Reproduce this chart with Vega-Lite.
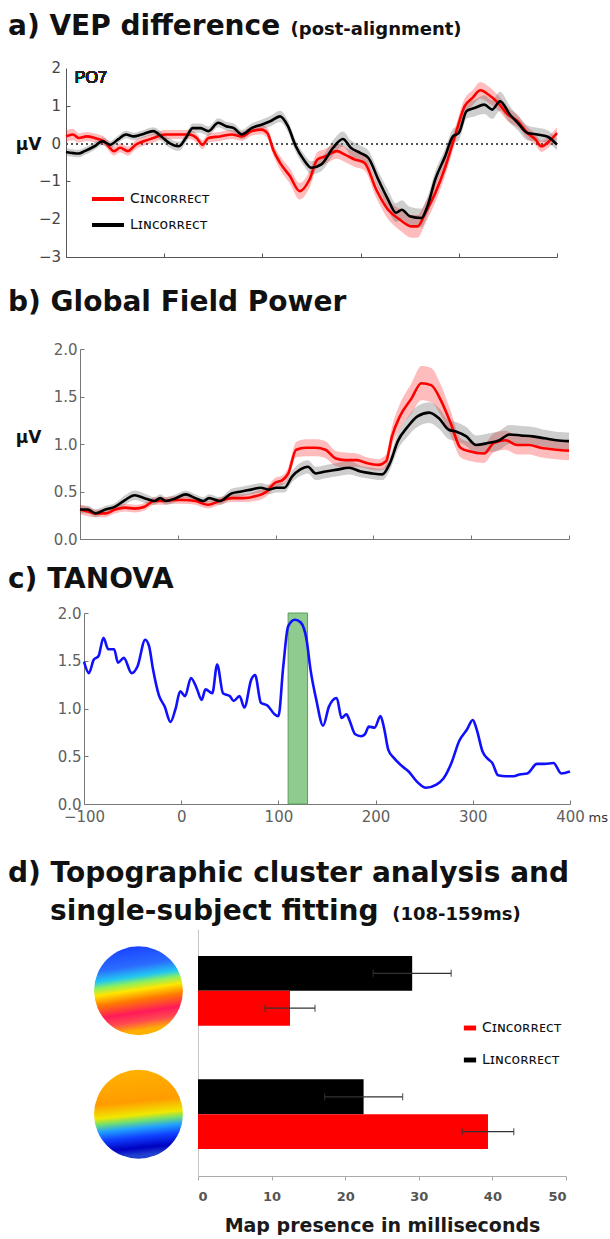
{
  "$schema": "https://vega.github.io/schema/vega-lite/v6.json",
  "background": "white",
  "padding": {"left": 8, "top": 13, "right": 0, "bottom": 0},
  "config": {
    "view": {"stroke": null},
    "axis": {"grid": false, "labelOverlap": false},
    "title": {"font": "DejaVu Sans", "fontWeight": "bold", "fontSize": 28, "color": "#111111", "anchor": "start", "frame": "group", "dx": -72}
  },
  "datasets": {
    "vep": [
      {"c":"Cɪɴᴄᴏʀʀᴇᴄᴛ","t":-100,"v":0.19,"lo":0.04,"hi":0.34},
      {"c":"Cɪɴᴄᴏʀʀᴇᴄᴛ","t":-93,"v":0.24,"lo":0.09,"hi":0.39},
      {"c":"Cɪɴᴄᴏʀʀᴇᴄᴛ","t":-87,"v":0.15,"lo":0.03,"hi":0.27},
      {"c":"Cɪɴᴄᴏʀʀᴇᴄᴛ","t":-79,"v":0.19,"lo":0.07,"hi":0.31},
      {"c":"Cɪɴᴄᴏʀʀᴇᴄᴛ","t":-71,"v":0.15,"lo":0.03,"hi":0.27},
      {"c":"Cɪɴᴄᴏʀʀᴇᴄᴛ","t":-61,"v":0.06,"lo":-0.06,"hi":0.18},
      {"c":"Cɪɴᴄᴏʀʀᴇᴄᴛ","t":-51,"v":-0.20,"lo":-0.32,"hi":-0.08},
      {"c":"Cɪɴᴄᴏʀʀᴇᴄᴛ","t":-45,"v":-0.11,"lo":-0.23,"hi":0.01},
      {"c":"Cɪɴᴄᴏʀʀᴇᴄᴛ","t":-37,"v":-0.20,"lo":-0.32,"hi":-0.08},
      {"c":"Cɪɴᴄᴏʀʀᴇᴄᴛ","t":-29,"v":-0.03,"lo":-0.15,"hi":0.09},
      {"c":"Cɪɴᴄᴏʀʀᴇᴄᴛ","t":-21,"v":0.06,"lo":-0.06,"hi":0.18},
      {"c":"Cɪɴᴄᴏʀʀᴇᴄᴛ","t":-11,"v":0.15,"lo":0.03,"hi":0.27},
      {"c":"Cɪɴᴄᴏʀʀᴇᴄᴛ","t":1,"v":0.24,"lo":0.12,"hi":0.36},
      {"c":"Cɪɴᴄᴏʀʀᴇᴄᴛ","t":13,"v":0.24,"lo":0.12,"hi":0.36},
      {"c":"Cɪɴᴄᴏʀʀᴇᴄᴛ","t":25,"v":0.24,"lo":0.12,"hi":0.36},
      {"c":"Cɪɴᴄᴏʀʀᴇᴄᴛ","t":33,"v":0.15,"lo":0.03,"hi":0.27},
      {"c":"Cɪɴᴄᴏʀʀᴇᴄᴛ","t":39,"v":-0.03,"lo":-0.15,"hi":0.09},
      {"c":"Cɪɴᴄᴏʀʀᴇᴄᴛ","t":45,"v":0.15,"lo":0.03,"hi":0.27},
      {"c":"Cɪɴᴄᴏʀʀᴇᴄᴛ","t":57,"v":0.19,"lo":0.07,"hi":0.31},
      {"c":"Cɪɴᴄᴏʀʀᴇᴄᴛ","t":69,"v":0.24,"lo":0.12,"hi":0.36},
      {"c":"Cɪɴᴄᴏʀʀᴇᴄᴛ","t":79,"v":0.19,"lo":0.07,"hi":0.31},
      {"c":"Cɪɴᴄᴏʀʀᴇᴄᴛ","t":89,"v":0.33,"lo":0.21,"hi":0.45},
      {"c":"Cɪɴᴄᴏʀʀᴇᴄᴛ","t":99,"v":0.37,"lo":0.25,"hi":0.49},
      {"c":"Cɪɴᴄᴏʀʀᴇᴄᴛ","t":105,"v":0.28,"lo":0.15,"hi":0.41},
      {"c":"Cɪɴᴄᴏʀʀᴇᴄᴛ","t":111,"v":-0.16,"lo":-0.31,"hi":-0.01},
      {"c":"Cɪɴᴄᴏʀʀᴇᴄᴛ","t":118,"v":-0.51,"lo":-0.69,"hi":-0.33},
      {"c":"Cɪɴᴄᴏʀʀᴇᴄᴛ","t":128,"v":-0.86,"lo":-1.06,"hi":-0.66},
      {"c":"Cɪɴᴄᴏʀʀᴇᴄᴛ","t":138,"v":-1.26,"lo":-1.48,"hi":-1.04},
      {"c":"Cɪɴᴄᴏʀʀᴇᴄᴛ","t":148,"v":-0.95,"lo":-1.17,"hi":-0.73},
      {"c":"Cɪɴᴄᴏʀʀᴇᴄᴛ","t":156,"v":-0.42,"lo":-0.62,"hi":-0.22},
      {"c":"Cɪɴᴄᴏʀʀᴇᴄᴛ","t":164,"v":-0.34,"lo":-0.54,"hi":-0.14},
      {"c":"Cɪɴᴄᴏʀʀᴇᴄᴛ","t":176,"v":-0.20,"lo":-0.40,"hi":0.00},
      {"c":"Cɪɴᴄᴏʀʀᴇᴄᴛ","t":184,"v":-0.29,"lo":-0.49,"hi":-0.09},
      {"c":"Cɪɴᴄᴏʀʀᴇᴄᴛ","t":194,"v":-0.42,"lo":-0.62,"hi":-0.22},
      {"c":"Cɪɴᴄᴏʀʀᴇᴄᴛ","t":204,"v":-0.51,"lo":-0.71,"hi":-0.31},
      {"c":"Cɪɴᴄᴏʀʀᴇᴄᴛ","t":216,"v":-1.22,"lo":-1.44,"hi":-1.00},
      {"c":"Cɪɴᴄᴏʀʀᴇᴄᴛ","t":228,"v":-1.75,"lo":-2.00,"hi":-1.50},
      {"c":"Cɪɴᴄᴏʀʀᴇᴄᴛ","t":240,"v":-2.01,"lo":-2.29,"hi":-1.73},
      {"c":"Cɪɴᴄᴏʀʀᴇᴄᴛ","t":252,"v":-2.19,"lo":-2.49,"hi":-1.89},
      {"c":"Cɪɴᴄᴏʀʀᴇᴄᴛ","t":258,"v":-2.19,"lo":-2.49,"hi":-1.89},
      {"c":"Cɪɴᴄᴏʀʀᴇᴄᴛ","t":266,"v":-1.83,"lo":-2.11,"hi":-1.55},
      {"c":"Cɪɴᴄᴏʀʀᴇᴄᴛ","t":276,"v":-1.31,"lo":-1.56,"hi":-1.06},
      {"c":"Cɪɴᴄᴏʀʀᴇᴄᴛ","t":286,"v":-0.64,"lo":-0.86,"hi":-0.42},
      {"c":"Cɪɴᴄᴏʀʀᴇᴄᴛ","t":296,"v":0.19,"lo":-0.01,"hi":0.39},
      {"c":"Cɪɴᴄᴏʀʀᴇᴄᴛ","t":306,"v":0.99,"lo":0.79,"hi":1.19},
      {"c":"Cɪɴᴄᴏʀʀᴇᴄᴛ","t":314,"v":1.21,"lo":1.01,"hi":1.41},
      {"c":"Cɪɴᴄᴏʀʀᴇᴄᴛ","t":322,"v":1.41,"lo":1.19,"hi":1.63},
      {"c":"Cɪɴᴄᴏʀʀᴇᴄᴛ","t":330,"v":1.30,"lo":1.08,"hi":1.52},
      {"c":"Cɪɴᴄᴏʀʀᴇᴄᴛ","t":340,"v":1.08,"lo":0.88,"hi":1.28},
      {"c":"Cɪɴᴄᴏʀʀᴇᴄᴛ","t":350,"v":0.77,"lo":0.59,"hi":0.95},
      {"c":"Cɪɴᴄᴏʀʀᴇᴄᴛ","t":360,"v":0.59,"lo":0.43,"hi":0.75},
      {"c":"Cɪɴᴄᴏʀʀᴇᴄᴛ","t":370,"v":0.28,"lo":0.13,"hi":0.43},
      {"c":"Cɪɴᴄᴏʀʀᴇᴄᴛ","t":378,"v":0.11,"lo":-0.04,"hi":0.26},
      {"c":"Cɪɴᴄᴏʀʀᴇᴄᴛ","t":384,"v":-0.07,"lo":-0.22,"hi":0.08},
      {"c":"Cɪɴᴄᴏʀʀᴇᴄᴛ","t":392,"v":0.06,"lo":-0.09,"hi":0.21},
      {"c":"Cɪɴᴄᴏʀʀᴇᴄᴛ","t":400,"v":0.28,"lo":0.13,"hi":0.43},
      {"c":"Lɪɴᴄᴏʀʀᴇᴄᴛ","t":-100,"v":-0.22,"lo":-0.32,"hi":-0.12},
      {"c":"Lɪɴᴄᴏʀʀᴇᴄᴛ","t":-87,"v":-0.26,"lo":-0.36,"hi":-0.16},
      {"c":"Lɪɴᴄᴏʀʀᴇᴄᴛ","t":-81,"v":-0.20,"lo":-0.30,"hi":-0.10},
      {"c":"Lɪɴᴄᴏʀʀᴇᴄᴛ","t":-71,"v":-0.07,"lo":-0.17,"hi":0.03},
      {"c":"Lɪɴᴄᴏʀʀᴇᴄᴛ","t":-63,"v":0.06,"lo":-0.04,"hi":0.16},
      {"c":"Lɪɴᴄᴏʀʀᴇᴄᴛ","t":-55,"v":-0.03,"lo":-0.13,"hi":0.07},
      {"c":"Lɪɴᴄᴏʀʀᴇᴄᴛ","t":-47,"v":0.11,"lo":0.01,"hi":0.21},
      {"c":"Lɪɴᴄᴏʀʀᴇᴄᴛ","t":-39,"v":0.24,"lo":0.14,"hi":0.34},
      {"c":"Lɪɴᴄᴏʀʀᴇᴄᴛ","t":-31,"v":0.19,"lo":0.09,"hi":0.29},
      {"c":"Lɪɴᴄᴏʀʀᴇᴄᴛ","t":-23,"v":0.24,"lo":0.14,"hi":0.34},
      {"c":"Lɪɴᴄᴏʀʀᴇᴄᴛ","t":-11,"v":0.33,"lo":0.23,"hi":0.43},
      {"c":"Lɪɴᴄᴏʀʀᴇᴄᴛ","t":-3,"v":0.19,"lo":0.07,"hi":0.31},
      {"c":"Lɪɴᴄᴏʀʀᴇᴄᴛ","t":5,"v":0.02,"lo":-0.10,"hi":0.14},
      {"c":"Lɪɴᴄᴏʀʀᴇᴄᴛ","t":15,"v":-0.07,"lo":-0.19,"hi":0.05},
      {"c":"Lɪɴᴄᴏʀʀᴇᴄᴛ","t":23,"v":0.19,"lo":0.07,"hi":0.31},
      {"c":"Lɪɴᴄᴏʀʀᴇᴄᴛ","t":29,"v":0.41,"lo":0.29,"hi":0.53},
      {"c":"Lɪɴᴄᴏʀʀᴇᴄᴛ","t":37,"v":0.41,"lo":0.29,"hi":0.53},
      {"c":"Lɪɴᴄᴏʀʀᴇᴄᴛ","t":45,"v":0.33,"lo":0.21,"hi":0.45},
      {"c":"Lɪɴᴄᴏʀʀᴇᴄᴛ","t":55,"v":0.55,"lo":0.43,"hi":0.67},
      {"c":"Lɪɴᴄᴏʀʀᴇᴄᴛ","t":63,"v":0.46,"lo":0.34,"hi":0.58},
      {"c":"Lɪɴᴄᴏʀʀᴇᴄᴛ","t":71,"v":0.41,"lo":0.29,"hi":0.53},
      {"c":"Lɪɴᴄᴏʀʀᴇᴄᴛ","t":79,"v":0.24,"lo":0.12,"hi":0.36},
      {"c":"Lɪɴᴄᴏʀʀᴇᴄᴛ","t":89,"v":0.41,"lo":0.29,"hi":0.53},
      {"c":"Lɪɴᴄᴏʀʀᴇᴄᴛ","t":99,"v":0.50,"lo":0.37,"hi":0.63},
      {"c":"Lɪɴᴄᴏʀʀᴇᴄᴛ","t":108,"v":0.59,"lo":0.45,"hi":0.73},
      {"c":"Lɪɴᴄᴏʀʀᴇᴄᴛ","t":118,"v":0.72,"lo":0.57,"hi":0.87},
      {"c":"Lɪɴᴄᴏʀʀᴇᴄᴛ","t":126,"v":0.46,"lo":0.31,"hi":0.61},
      {"c":"Lɪɴᴄᴏʀʀᴇᴄᴛ","t":134,"v":-0.07,"lo":-0.22,"hi":0.08},
      {"c":"Lɪɴᴄᴏʀʀᴇᴄᴛ","t":142,"v":-0.42,"lo":-0.58,"hi":-0.26},
      {"c":"Lɪɴᴄᴏʀʀᴇᴄᴛ","t":150,"v":-0.64,"lo":-0.81,"hi":-0.47},
      {"c":"Lɪɴᴄᴏʀʀᴇᴄᴛ","t":160,"v":-0.55,"lo":-0.73,"hi":-0.37},
      {"c":"Lɪɴᴄᴏʀʀᴇᴄᴛ","t":172,"v":-0.11,"lo":-0.31,"hi":0.09},
      {"c":"Lɪɴᴄᴏʀʀᴇᴄᴛ","t":182,"v":0.12,"lo":-0.08,"hi":0.32},
      {"c":"Lɪɴᴄᴏʀʀᴇᴄᴛ","t":190,"v":-0.11,"lo":-0.31,"hi":0.09},
      {"c":"Lɪɴᴄᴏʀʀᴇᴄᴛ","t":200,"v":-0.25,"lo":-0.45,"hi":-0.05},
      {"c":"Lɪɴᴄᴏʀʀᴇᴄᴛ","t":208,"v":-0.38,"lo":-0.58,"hi":-0.18},
      {"c":"Lɪɴᴄᴏʀʀᴇᴄᴛ","t":218,"v":-0.95,"lo":-1.17,"hi":-0.73},
      {"c":"Lɪɴᴄᴏʀʀᴇᴄᴛ","t":228,"v":-1.48,"lo":-1.73,"hi":-1.23},
      {"c":"Lɪɴᴄᴏʀʀᴇᴄᴛ","t":236,"v":-1.83,"lo":-2.08,"hi":-1.58},
      {"c":"Lɪɴᴄᴏʀʀᴇᴄᴛ","t":242,"v":-1.75,"lo":-2.00,"hi":-1.50},
      {"c":"Lɪɴᴄᴏʀʀᴇᴄᴛ","t":250,"v":-1.92,"lo":-2.17,"hi":-1.67},
      {"c":"Lɪɴᴄᴏʀʀᴇᴄᴛ","t":262,"v":-1.97,"lo":-2.22,"hi":-1.72},
      {"c":"Lɪɴᴄᴏʀʀᴇᴄᴛ","t":268,"v":-1.66,"lo":-1.91,"hi":-1.41},
      {"c":"Lɪɴᴄᴏʀʀᴇᴄᴛ","t":276,"v":-0.95,"lo":-1.17,"hi":-0.73},
      {"c":"Lɪɴᴄᴏʀʀᴇᴄᴛ","t":286,"v":-0.34,"lo":-0.54,"hi":-0.14},
      {"c":"Lɪɴᴄᴏʀʀᴇᴄᴛ","t":294,"v":0.19,"lo":-0.01,"hi":0.39},
      {"c":"Lɪɴᴄᴏʀʀᴇᴄᴛ","t":300,"v":0.28,"lo":0.08,"hi":0.48},
      {"c":"Lɪɴᴄᴏʀʀᴇᴄᴛ","t":308,"v":0.86,"lo":0.66,"hi":1.06},
      {"c":"Lɪɴᴄᴏʀʀᴇᴄᴛ","t":316,"v":0.94,"lo":0.72,"hi":1.16},
      {"c":"Lɪɴᴄᴏʀʀᴇᴄᴛ","t":326,"v":1.03,"lo":0.78,"hi":1.28},
      {"c":"Lɪɴᴄᴏʀʀᴇᴄᴛ","t":334,"v":0.90,"lo":0.65,"hi":1.15},
      {"c":"Lɪɴᴄᴏʀʀᴇᴄᴛ","t":342,"v":1.12,"lo":0.87,"hi":1.37},
      {"c":"Lɪɴᴄᴏʀʀᴇᴄᴛ","t":352,"v":0.77,"lo":0.55,"hi":0.99},
      {"c":"Lɪɴᴄᴏʀʀᴇᴄᴛ","t":360,"v":0.55,"lo":0.35,"hi":0.75},
      {"c":"Lɪɴᴄᴏʀʀᴇᴄᴛ","t":370,"v":0.28,"lo":0.08,"hi":0.48},
      {"c":"Lɪɴᴄᴏʀʀᴇᴄᴛ","t":380,"v":0.24,"lo":0.06,"hi":0.42},
      {"c":"Lɪɴᴄᴏʀʀᴇᴄᴛ","t":390,"v":0.19,"lo":0.02,"hi":0.36},
      {"c":"Lɪɴᴄᴏʀʀᴇᴄᴛ","t":400,"v":-0.03,"lo":-0.18,"hi":0.12}
    ],
    "aticks": [{"v":-3},{"v":-2},{"v":-1},{"v":0},{"v":1},{"v":2}],
    "gfp": [
      {"c":"Cɪɴᴄᴏʀʀᴇᴄᴛ","t":-100,"v":0.31,"lo":0.26,"hi":0.36},
      {"c":"Cɪɴᴄᴏʀʀᴇᴄᴛ","t":-92,"v":0.29,"lo":0.24,"hi":0.34},
      {"c":"Cɪɴᴄᴏʀʀᴇᴄᴛ","t":-84,"v":0.27,"lo":0.23,"hi":0.31},
      {"c":"Cɪɴᴄᴏʀʀᴇᴄᴛ","t":-74,"v":0.27,"lo":0.23,"hi":0.31},
      {"c":"Cɪɴᴄᴏʀʀᴇᴄᴛ","t":-64,"v":0.31,"lo":0.27,"hi":0.35},
      {"c":"Cɪɴᴄᴏʀʀᴇᴄᴛ","t":-54,"v":0.33,"lo":0.29,"hi":0.37},
      {"c":"Cɪɴᴄᴏʀʀᴇᴄᴛ","t":-44,"v":0.32,"lo":0.28,"hi":0.36},
      {"c":"Cɪɴᴄᴏʀʀᴇᴄᴛ","t":-34,"v":0.34,"lo":0.30,"hi":0.38},
      {"c":"Cɪɴᴄᴏʀʀᴇᴄᴛ","t":-24,"v":0.40,"lo":0.36,"hi":0.44},
      {"c":"Cɪɴᴄᴏʀʀᴇᴄᴛ","t":-14,"v":0.40,"lo":0.36,"hi":0.44},
      {"c":"Cɪɴᴄᴏʀʀᴇᴄᴛ","t":-4,"v":0.41,"lo":0.37,"hi":0.45},
      {"c":"Cɪɴᴄᴏʀʀᴇᴄᴛ","t":6,"v":0.41,"lo":0.37,"hi":0.45},
      {"c":"Cɪɴᴄᴏʀʀᴇᴄᴛ","t":18,"v":0.40,"lo":0.36,"hi":0.44},
      {"c":"Cɪɴᴄᴏʀʀᴇᴄᴛ","t":31,"v":0.36,"lo":0.32,"hi":0.40},
      {"c":"Cɪɴᴄᴏʀʀᴇᴄᴛ","t":43,"v":0.40,"lo":0.36,"hi":0.44},
      {"c":"Cɪɴᴄᴏʀʀᴇᴄᴛ","t":55,"v":0.43,"lo":0.39,"hi":0.47},
      {"c":"Cɪɴᴄᴏʀʀᴇᴄᴛ","t":67,"v":0.43,"lo":0.39,"hi":0.47},
      {"c":"Cɪɴᴄᴏʀʀᴇᴄᴛ","t":79,"v":0.45,"lo":0.40,"hi":0.50},
      {"c":"Cɪɴᴄᴏʀʀᴇᴄᴛ","t":91,"v":0.50,"lo":0.45,"hi":0.55},
      {"c":"Cɪɴᴄᴏʀʀᴇᴄᴛ","t":99,"v":0.59,"lo":0.54,"hi":0.64},
      {"c":"Cɪɴᴄᴏʀʀᴇᴄᴛ","t":107,"v":0.62,"lo":0.57,"hi":0.67},
      {"c":"Cɪɴᴄᴏʀʀᴇᴄᴛ","t":113,"v":0.69,"lo":0.63,"hi":0.75},
      {"c":"Cɪɴᴄᴏʀʀᴇᴄᴛ","t":121,"v":0.94,"lo":0.86,"hi":1.02},
      {"c":"Cɪɴᴄᴏʀʀᴇᴄᴛ","t":131,"v":0.96,"lo":0.87,"hi":1.05},
      {"c":"Cɪɴᴄᴏʀʀᴇᴄᴛ","t":141,"v":0.96,"lo":0.87,"hi":1.05},
      {"c":"Cɪɴᴄᴏʀʀᴇᴄᴛ","t":151,"v":0.94,"lo":0.85,"hi":1.03},
      {"c":"Cɪɴᴄᴏʀʀᴇᴄᴛ","t":161,"v":0.85,"lo":0.77,"hi":0.93},
      {"c":"Cɪɴᴄᴏʀʀᴇᴄᴛ","t":171,"v":0.83,"lo":0.75,"hi":0.91},
      {"c":"Cɪɴᴄᴏʀʀᴇᴄᴛ","t":183,"v":0.83,"lo":0.76,"hi":0.90},
      {"c":"Cɪɴᴄᴏʀʀᴇᴄᴛ","t":193,"v":0.80,"lo":0.74,"hi":0.86},
      {"c":"Cɪɴᴄᴏʀʀᴇᴄᴛ","t":205,"v":0.78,"lo":0.72,"hi":0.84},
      {"c":"Cɪɴᴄᴏʀʀᴇᴄᴛ","t":213,"v":0.82,"lo":0.75,"hi":0.89},
      {"c":"Cɪɴᴄᴏʀʀᴇᴄᴛ","t":219,"v":1.08,"lo":0.98,"hi":1.18},
      {"c":"Cɪɴᴄᴏʀʀᴇᴄᴛ","t":227,"v":1.29,"lo":1.16,"hi":1.42},
      {"c":"Cɪɴᴄᴏʀʀᴇᴄᴛ","t":239,"v":1.48,"lo":1.32,"hi":1.64},
      {"c":"Cɪɴᴄᴏʀʀᴇᴄᴛ","t":249,"v":1.64,"lo":1.46,"hi":1.82},
      {"c":"Cɪɴᴄᴏʀʀᴇᴄᴛ","t":259,"v":1.62,"lo":1.44,"hi":1.80},
      {"c":"Cɪɴᴄᴏʀʀᴇᴄᴛ","t":269,"v":1.46,"lo":1.30,"hi":1.62},
      {"c":"Cɪɴᴄᴏʀʀᴇᴄᴛ","t":279,"v":1.22,"lo":1.09,"hi":1.35},
      {"c":"Cɪɴᴄᴏʀʀᴇᴄᴛ","t":289,"v":0.96,"lo":0.86,"hi":1.06},
      {"c":"Cɪɴᴄᴏʀʀᴇᴄᴛ","t":299,"v":0.92,"lo":0.82,"hi":1.02},
      {"c":"Cɪɴᴄᴏʀʀᴇᴄᴛ","t":313,"v":0.90,"lo":0.80,"hi":1.00},
      {"c":"Cɪɴᴄᴏʀʀᴇᴄᴛ","t":323,"v":1.01,"lo":0.91,"hi":1.11},
      {"c":"Cɪɴᴄᴏʀʀᴇᴄᴛ","t":335,"v":1.04,"lo":0.94,"hi":1.14},
      {"c":"Cɪɴᴄᴏʀʀᴇᴄᴛ","t":347,"v":0.99,"lo":0.89,"hi":1.09},
      {"c":"Cɪɴᴄᴏʀʀᴇᴄᴛ","t":359,"v":0.99,"lo":0.89,"hi":1.09},
      {"c":"Cɪɴᴄᴏʀʀᴇᴄᴛ","t":371,"v":0.96,"lo":0.86,"hi":1.06},
      {"c":"Cɪɴᴄᴏʀʀᴇᴄᴛ","t":387,"v":0.94,"lo":0.84,"hi":1.04},
      {"c":"Cɪɴᴄᴏʀʀᴇᴄᴛ","t":400,"v":0.93,"lo":0.83,"hi":1.03},
      {"c":"Lɪɴᴄᴏʀʀᴇᴄᴛ","t":-100,"v":0.31,"lo":0.27,"hi":0.35},
      {"c":"Lɪɴᴄᴏʀʀᴇᴄᴛ","t":-92,"v":0.31,"lo":0.27,"hi":0.35},
      {"c":"Lɪɴᴄᴏʀʀᴇᴄᴛ","t":-84,"v":0.27,"lo":0.23,"hi":0.31},
      {"c":"Lɪɴᴄᴏʀʀᴇᴄᴛ","t":-74,"v":0.31,"lo":0.27,"hi":0.35},
      {"c":"Lɪɴᴄᴏʀʀᴇᴄᴛ","t":-64,"v":0.34,"lo":0.30,"hi":0.38},
      {"c":"Lɪɴᴄᴏʀʀᴇᴄᴛ","t":-54,"v":0.41,"lo":0.36,"hi":0.46},
      {"c":"Lɪɴᴄᴏʀʀᴇᴄᴛ","t":-44,"v":0.46,"lo":0.41,"hi":0.51},
      {"c":"Lɪɴᴄᴏʀʀᴇᴄᴛ","t":-34,"v":0.43,"lo":0.38,"hi":0.48},
      {"c":"Lɪɴᴄᴏʀʀᴇᴄᴛ","t":-24,"v":0.40,"lo":0.36,"hi":0.44},
      {"c":"Lɪɴᴄᴏʀʀᴇᴄᴛ","t":-18,"v":0.43,"lo":0.39,"hi":0.47},
      {"c":"Lɪɴᴄᴏʀʀᴇᴄᴛ","t":-12,"v":0.40,"lo":0.36,"hi":0.44},
      {"c":"Lɪɴᴄᴏʀʀᴇᴄᴛ","t":-2,"v":0.43,"lo":0.39,"hi":0.47},
      {"c":"Lɪɴᴄᴏʀʀᴇᴄᴛ","t":8,"v":0.47,"lo":0.43,"hi":0.51},
      {"c":"Lɪɴᴄᴏʀʀᴇᴄᴛ","t":18,"v":0.43,"lo":0.39,"hi":0.47},
      {"c":"Lɪɴᴄᴏʀʀᴇᴄᴛ","t":26,"v":0.40,"lo":0.36,"hi":0.44},
      {"c":"Lɪɴᴄᴏʀʀᴇᴄᴛ","t":32,"v":0.43,"lo":0.39,"hi":0.47},
      {"c":"Lɪɴᴄᴏʀʀᴇᴄᴛ","t":43,"v":0.40,"lo":0.36,"hi":0.44},
      {"c":"Lɪɴᴄᴏʀʀᴇᴄᴛ","t":55,"v":0.48,"lo":0.43,"hi":0.53},
      {"c":"Lɪɴᴄᴏʀʀᴇᴄᴛ","t":65,"v":0.50,"lo":0.45,"hi":0.55},
      {"c":"Lɪɴᴄᴏʀʀᴇᴄᴛ","t":75,"v":0.52,"lo":0.47,"hi":0.57},
      {"c":"Lɪɴᴄᴏʀʀᴇᴄᴛ","t":85,"v":0.54,"lo":0.49,"hi":0.59},
      {"c":"Lɪɴᴄᴏʀʀᴇᴄᴛ","t":93,"v":0.52,"lo":0.47,"hi":0.57},
      {"c":"Lɪɴᴄᴏʀʀᴇᴄᴛ","t":101,"v":0.54,"lo":0.49,"hi":0.59},
      {"c":"Lɪɴᴄᴏʀʀᴇᴄᴛ","t":109,"v":0.54,"lo":0.49,"hi":0.59},
      {"c":"Lɪɴᴄᴏʀʀᴇᴄᴛ","t":117,"v":0.66,"lo":0.60,"hi":0.72},
      {"c":"Lɪɴᴄᴏʀʀᴇᴄᴛ","t":125,"v":0.73,"lo":0.66,"hi":0.80},
      {"c":"Lɪɴᴄᴏʀʀᴇᴄᴛ","t":133,"v":0.76,"lo":0.69,"hi":0.83},
      {"c":"Lɪɴᴄᴏʀʀᴇᴄᴛ","t":141,"v":0.69,"lo":0.62,"hi":0.76},
      {"c":"Lɪɴᴄᴏʀʀᴇᴄᴛ","t":151,"v":0.71,"lo":0.64,"hi":0.78},
      {"c":"Lɪɴᴄᴏʀʀᴇᴄᴛ","t":163,"v":0.73,"lo":0.66,"hi":0.80},
      {"c":"Lɪɴᴄᴏʀʀᴇᴄᴛ","t":175,"v":0.75,"lo":0.68,"hi":0.82},
      {"c":"Lɪɴᴄᴏʀʀᴇᴄᴛ","t":187,"v":0.71,"lo":0.65,"hi":0.77},
      {"c":"Lɪɴᴄᴏʀʀᴇᴄᴛ","t":199,"v":0.69,"lo":0.63,"hi":0.75},
      {"c":"Lɪɴᴄᴏʀʀᴇᴄᴛ","t":209,"v":0.68,"lo":0.62,"hi":0.74},
      {"c":"Lɪɴᴄᴏʀʀᴇᴄᴛ","t":217,"v":0.80,"lo":0.73,"hi":0.87},
      {"c":"Lɪɴᴄᴏʀʀᴇᴄᴛ","t":225,"v":1.03,"lo":0.94,"hi":1.12},
      {"c":"Lɪɴᴄᴏʀʀᴇᴄᴛ","t":235,"v":1.18,"lo":1.08,"hi":1.28},
      {"c":"Lɪɴᴄᴏʀʀᴇᴄᴛ","t":245,"v":1.29,"lo":1.18,"hi":1.40},
      {"c":"Lɪɴᴄᴏʀʀᴇᴄᴛ","t":257,"v":1.33,"lo":1.22,"hi":1.44},
      {"c":"Lɪɴᴄᴏʀʀᴇᴄᴛ","t":267,"v":1.27,"lo":1.16,"hi":1.38},
      {"c":"Lɪɴᴄᴏʀʀᴇᴄᴛ","t":277,"v":1.15,"lo":1.05,"hi":1.25},
      {"c":"Lɪɴᴄᴏʀʀᴇᴄᴛ","t":285,"v":1.13,"lo":1.03,"hi":1.23},
      {"c":"Lɪɴᴄᴏʀʀᴇᴄᴛ","t":295,"v":1.08,"lo":0.98,"hi":1.18},
      {"c":"Lɪɴᴄᴏʀʀᴇᴄᴛ","t":305,"v":0.99,"lo":0.89,"hi":1.09},
      {"c":"Lɪɴᴄᴏʀʀᴇᴄᴛ","t":317,"v":1.01,"lo":0.91,"hi":1.11},
      {"c":"Lɪɴᴄᴏʀʀᴇᴄᴛ","t":329,"v":1.04,"lo":0.94,"hi":1.14},
      {"c":"Lɪɴᴄᴏʀʀᴇᴄᴛ","t":339,"v":1.10,"lo":1.00,"hi":1.20},
      {"c":"Lɪɴᴄᴏʀʀᴇᴄᴛ","t":351,"v":1.09,"lo":0.99,"hi":1.19},
      {"c":"Lɪɴᴄᴏʀʀᴇᴄᴛ","t":363,"v":1.08,"lo":0.98,"hi":1.18},
      {"c":"Lɪɴᴄᴏʀʀᴇᴄᴛ","t":375,"v":1.06,"lo":0.97,"hi":1.15},
      {"c":"Lɪɴᴄᴏʀʀᴇᴄᴛ","t":387,"v":1.04,"lo":0.95,"hi":1.13},
      {"c":"Lɪɴᴄᴏʀʀᴇᴄᴛ","t":400,"v":1.03,"lo":0.94,"hi":1.12}
    ],
    "tanova": [
      {"t":-100,"v":1.49},{"t":-95,"v":1.37},{"t":-90,"v":1.51},{"t":-85,"v":1.55},{"t":-80,"v":1.74},
      {"t":-75,"v":1.62},{"t":-69,"v":1.62},{"t":-65,"v":1.48},{"t":-59,"v":1.53},{"t":-51,"v":1.37},
      {"t":-45,"v":1.44},{"t":-37,"v":1.72},{"t":-33,"v":1.65},{"t":-29,"v":1.41},{"t":-23,"v":1.14},
      {"t":-17,"v":1.02},{"t":-11,"v":0.86},{"t":-6,"v":0.99},{"t":-1,"v":1.18},{"t":4,"v":1.13},
      {"t":10,"v":1.32},{"t":16,"v":1.21},{"t":21,"v":1.09},{"t":25,"v":1.20},{"t":32,"v":1.16},
      {"t":37,"v":1.46},{"t":43,"v":1.16},{"t":50,"v":1.13},{"t":54,"v":1.08},{"t":60,"v":1.13},
      {"t":65,"v":1.01},{"t":72,"v":1.30},{"t":76,"v":1.35},{"t":82,"v":1.06},{"t":89,"v":1.03},
      {"t":96,"v":0.94},{"t":100,"v":0.92},{"t":105,"v":1.44},{"t":110,"v":1.86},{"t":117,"v":1.93},
      {"t":123,"v":1.90},{"t":129,"v":1.72},{"t":133,"v":1.41},{"t":139,"v":1.09},{"t":146,"v":0.82},
      {"t":152,"v":1.02},{"t":160,"v":1.11},{"t":165,"v":0.90},{"t":170,"v":0.94},{"t":173,"v":0.88},
      {"t":179,"v":0.73},{"t":185,"v":0.71},{"t":189,"v":0.73},{"t":193,"v":0.81},{"t":199,"v":0.80},
      {"t":205,"v":0.92},{"t":209,"v":0.78},{"t":213,"v":0.57},{"t":219,"v":0.48},{"t":228,"v":0.39},
      {"t":234,"v":0.34},{"t":242,"v":0.24},{"t":252,"v":0.17},{"t":262,"v":0.20},{"t":270,"v":0.27},
      {"t":278,"v":0.43},{"t":286,"v":0.66},{"t":294,"v":0.78},{"t":300,"v":0.88},{"t":304,"v":0.78},
      {"t":310,"v":0.55},{"t":317,"v":0.46},{"t":320,"v":0.43},{"t":326,"v":0.30},{"t":334,"v":0.29},
      {"t":342,"v":0.29},{"t":348,"v":0.31},{"t":356,"v":0.32},{"t":366,"v":0.42},{"t":374,"v":0.42},
      {"t":383,"v":0.43},{"t":391,"v":0.32},{"t":400,"v":0.34}
    ],
    "sig": [{"start":110,"end":130}],
    "maps": [{"map":"Map 1"},{"map":"Map 2"}],
    "bars": [
      {"map":"Map 1","cond":"Lɪɴᴄᴏʀʀᴇᴄᴛ","ms":29.1,"lo":23.8,"hi":34.4},
      {"map":"Map 1","cond":"Cɪɴᴄᴏʀʀᴇᴄᴛ","ms":12.5,"lo":9.1,"hi":15.9},
      {"map":"Map 2","cond":"Lɪɴᴄᴏʀʀᴇᴄᴛ","ms":22.5,"lo":17.2,"hi":27.8},
      {"map":"Map 2","cond":"Cɪɴᴄᴏʀʀᴇᴄᴛ","ms":39.4,"lo":35.9,"hi":42.9}
    ]
  },
  "resolve": {"scale": {"color": "independent", "fill": "independent"}, "legend": {"color": "independent", "fill": "independent"}},
  "spacing": 35,
  "vconcat": [
    {
      "resolve": {"scale": {"color": "independent", "fill": "independent"}, "legend": {"color": "independent", "fill": "independent"}},
      "spacing": 24,
      "vconcat": [
        {
          "title": {"text": "a) VEP difference", "subtitle": "\u200b\u2003\u2003\u2003\u2003\u2003\u2003\u2003\u2003\u2003\u2003\u2003\u2003\u2003\u2003\u2003\u00a0\u00a0(post-alignment)", "subtitleFont": "DejaVu Sans", "subtitleFontWeight": "bold", "subtitleFontSize": 18, "subtitleColor": "#111111", "subtitlePadding": -20, "offset": 20},
          "width": 477,
          "height": 189,
          "data": {"name": "vep"},
          "layer": [
            {
              "mark": {"type": "rule", "strokeDash": [2, 3], "color": "#555555", "strokeWidth": 1.2},
              "encoding": {
                "x": {"datum": -100, "type": "quantitative"},
                "x2": {"datum": 400},
                "y": {"datum": 0, "type": "quantitative"}
              }
            },
            {
              "mark": {"type": "area", "interpolate": "monotone", "fillOpacity": 0.28},
              "encoding": {
                "x": {"field": "t", "type": "quantitative", "scale": {"domain": [-100, 400], "range": [-14, 477], "nice": false, "zero": false},
                  "axis": {"values": [-100, 0, 100, 200, 300, 400], "labels": false, "title": null, "tickSize": -4, "tickColor": "#555555", "domainColor": "#555555"}},
                "y": {"field": "lo", "type": "quantitative", "scale": {"domain": [-3, 2], "nice": false, "zero": false},
                  "axis": {"values": [-3, -2, -1, 0, 1, 2], "labels": false, "offset": 14, "tickSize": -4, "tickColor": "#555555", "domainColor": "#555555",
                    "title": "μV", "titleAngle": 0, "titleX": -25, "titleY": 76, "titleAlign": "right", "titleBaseline": "middle", "titleFont": "DejaVu Sans", "titleFontWeight": "bold", "titleFontSize": 17, "titleColor": "#111111"}},
                "y2": {"field": "hi"},
                "fill": {"field": "c", "type": "nominal", "scale": {"domain": ["Lɪɴᴄᴏʀʀᴇᴄᴛ", "Cɪɴᴄᴏʀʀᴇᴄᴛ"], "range": ["#505050", "#ff1010"]}, "legend": null}
              }
            },
            {
              "mark": {"type": "line", "interpolate": "monotone", "strokeWidth": 2.6},
              "encoding": {
                "x": {"field": "t", "type": "quantitative"},
                "y": {"field": "v", "type": "quantitative"},
                "color": {"field": "c", "type": "nominal", "scale": {"domain": ["Cɪɴᴄᴏʀʀᴇᴄᴛ", "Lɪɴᴄᴏʀʀᴇᴄᴛ"], "range": ["#ff0000", "#000000"]},
                  "legend": {"orient": "none", "legendX": 10, "legendY": 113, "title": null, "symbolType": "stroke", "symbolStrokeWidth": 4, "symbolSize": 1024, "rowPadding": 0, "labelFont": "DejaVu Sans", "labelFontSize": 14, "labelColor": "#111111", "labelOffset": 4}}
              }
            },
            {
              "data": {"name": "aticks"},
              "mark": {"type": "text", "align": "right", "baseline": "middle", "dx": -5, "font": "DejaVu Sans", "fontSize": 15, "color": "#444444"},
              "encoding": {
                "x": {"datum": -100, "type": "quantitative"},
                "y": {"field": "v", "type": "quantitative"},
                "text": {"field": "v", "type": "quantitative", "format": "d"}
              }
            },
            {
              "mark": {"type": "text", "text": "PO7", "align": "left", "baseline": "middle", "font": "Liberation Sans", "fontSize": 16, "color": "#222222"},
              "encoding": {
                "x": {"datum": -91, "type": "quantitative"},
                "y": {"datum": 1.74, "type": "quantitative"}
              }
            }
          ]
        },
        {
          "spacing": 19,
          "resolve": {"scale": {"color": "independent", "fill": "independent"}, "legend": {"color": "independent", "fill": "independent"}},
          "vconcat": [
            {
              "title": {"text": "b) Global Field Power", "offset": 25},
              "width": 489,
              "height": 190,
              "data": {"name": "gfp"},
              "layer": [
                {
                  "mark": {"type": "area", "interpolate": "monotone", "fillOpacity": 0.28},
                  "encoding": {
                    "x": {"field": "t", "type": "quantitative", "scale": {"domain": [-100, 400], "nice": false, "zero": false},
                      "axis": {"values": [-100, 0, 100, 200, 300, 400], "labels": false, "title": null, "tickSize": -4, "tickColor": "#777777", "domainColor": "#777777"}},
                    "y": {"field": "lo", "type": "quantitative", "scale": {"domain": [0, 2], "nice": false, "zero": false},
                      "axis": {"values": [0, 0.5, 1, 1.5, 2], "format": ".1f", "tickSize": -4, "tickColor": "#777777", "domainColor": "#777777", "labelFont": "DejaVu Sans", "labelFontSize": 15, "labelColor": "#606060", "labelPadding": 7,
                        "title": "μV", "titleAngle": 0, "titleX": -39, "titleY": 88, "titleAlign": "right", "titleBaseline": "middle", "titleFont": "DejaVu Sans", "titleFontWeight": "bold", "titleFontSize": 17, "titleColor": "#111111"}},
                    "y2": {"field": "hi"},
                    "fill": {"field": "c", "type": "nominal", "scale": {"domain": ["Lɪɴᴄᴏʀʀᴇᴄᴛ", "Cɪɴᴄᴏʀʀᴇᴄᴛ"], "range": ["#505050", "#ff1010"]}, "legend": null}
                  }
                },
                {
                  "mark": {"type": "line", "interpolate": "monotone", "strokeWidth": 2.6},
                  "encoding": {
                    "x": {"field": "t", "type": "quantitative"},
                    "y": {"field": "v", "type": "quantitative"},
                    "color": {"field": "c", "type": "nominal", "scale": {"domain": ["Cɪɴᴄᴏʀʀᴇᴄᴛ", "Lɪɴᴄᴏʀʀᴇᴄᴛ"], "range": ["#ff0000", "#000000"]}, "legend": null}
                  }
                }
              ]
            },
            {
              "title": {"text": "c) TANOVA", "offset": 12},
              "width": 490,
              "height": 191,
              "layer": [
                {
                  "data": {"name": "sig"},
                  "mark": {"type": "rect", "fill": "#8fca8f", "stroke": "#5c9e5c", "strokeWidth": 1},
                  "encoding": {
                    "x": {"field": "start", "type": "quantitative"},
                    "x2": {"field": "end"},
                    "y": {"datum": 0, "type": "quantitative"},
                    "y2": {"datum": 2}
                  }
                },
                {
                  "data": {"name": "tanova"},
                  "mark": {"type": "line", "interpolate": "monotone", "strokeWidth": 2.6, "color": "#1010ff"},
                  "encoding": {
                    "x": {"field": "t", "type": "quantitative", "scale": {"domain": [-100, 400], "range": [4, 490], "nice": false, "zero": false},
                      "axis": {"values": [-100, 0, 100, 200, 300, 400], "format": "d", "labelFlush": false, "tickSize": -4, "tickColor": "#777777", "domainColor": "#777777", "labelFont": "DejaVu Sans", "labelFontSize": 15, "labelColor": "#606060", "labelPadding": 9.5,
                        "title": "ms", "titleX": 508, "titleY": 13, "titleAlign": "left", "titleBaseline": "middle", "titleFont": "DejaVu Sans", "titleFontWeight": "normal", "titleFontSize": 13, "titleColor": "#333333"}},
                    "y": {"field": "v", "type": "quantitative", "scale": {"domain": [0, 2], "nice": false, "zero": false},
                      "axis": {"values": [0, 0.5, 1, 1.5, 2], "format": ".1f", "offset": -4, "tickSize": -4, "tickColor": "#777777", "domainColor": "#777777", "labelFont": "DejaVu Sans", "labelFontSize": 15, "labelColor": "#606060", "labelPadding": 7, "title": null}}
                  }
                }
              ]
            }
          ]
        }
      ]
    },
    {
      "title": {"text": ["d) Topographic cluster analysis and", "\u200b\u2003\u2002single-subject fitting"], "lineHeight": 38, "subtitle": "\u200b\u2003\u2003\u2003\u2003\u2003\u2003\u2003\u2003\u2003\u2003\u2003\u2003\u2003\u2003\u2003\u2003\u2003\u2003\u2003\u2003\u2003\u00a0(108-159ms)", "subtitleFont": "DejaVu Sans", "subtitleFontWeight": "bold", "subtitleFontSize": 18, "subtitleColor": "#111111", "subtitlePadding": -20, "offset": 3},
      "spacing": 0,
      "hconcat": [
        {
          "width": 117,
          "height": 247,
          "data": {"name": "maps"},
          "layer": [
            {
              "transform": [{"filter": "datum.map === 'Map 1'"}],
              "mark": {"type": "point", "shape": "circle", "size": 7900, "filled": true, "opacity": 1, "strokeWidth": 0,
                "fill": {"gradient": "linear", "x1": 0, "y1": 0, "x2": 0.15, "y2": 1, "stops": [
                  {"offset": 0, "color": "#1438ff"}, {"offset": 0.28, "color": "#2b6cff"}, {"offset": 0.4, "color": "#22c8f0"},
                  {"offset": 0.47, "color": "#8af060"}, {"offset": 0.55, "color": "#ffe600"}, {"offset": 0.66, "color": "#ff7a00"},
                  {"offset": 0.8, "color": "#ff1a5a"}, {"offset": 0.9, "color": "#ff4a50"}, {"offset": 1, "color": "#ffb000"}]}},
              "encoding": {
                "y": {"field": "map", "type": "nominal", "scale": {"type": "band", "domain": ["Map 1", "Map 2"], "paddingInner": 0.435, "paddingOuter": 0.218}, "axis": null}
              }
            },
            {
              "transform": [{"filter": "datum.map === 'Map 2'"}],
              "mark": {"type": "point", "shape": "circle", "size": 7900, "filled": true, "opacity": 1, "strokeWidth": 0,
                "fill": {"gradient": "linear", "x1": 0, "y1": 0, "x2": 0.1, "y2": 1, "stops": [
                  {"offset": 0, "color": "#ffb400"}, {"offset": 0.4, "color": "#ff9c00"}, {"offset": 0.55, "color": "#f0e800"},
                  {"offset": 0.62, "color": "#70e070"}, {"offset": 0.7, "color": "#20a0ff"}, {"offset": 0.8, "color": "#1040ff"},
                  {"offset": 0.92, "color": "#0000c0"}, {"offset": 1, "color": "#2040d0"}]}},
              "encoding": {
                "y": {"field": "map", "type": "nominal", "scale": {"type": "band", "domain": ["Map 1", "Map 2"], "paddingInner": 0.435, "paddingOuter": 0.218}, "axis": null}
              }
            }
          ]
        },
        {
          "width": 368,
          "height": 247,
          "data": {"name": "bars"},
          "encoding": {
            "y": {"field": "map", "type": "nominal", "scale": {"type": "band", "domain": ["Map 1", "Map 2"], "paddingInner": 0.435, "paddingOuter": 0.218},
              "axis": {"title": null, "labels": false, "ticks": false, "domainColor": "#c8c8c8"}},
            "yOffset": {"field": "cond", "type": "nominal", "scale": {"domain": ["Lɪɴᴄᴏʀʀᴇᴄᴛ", "Cɪɴᴄᴏʀʀᴇᴄᴛ"], "paddingInner": 0, "paddingOuter": 0}}
          },
          "layer": [
            {
              "mark": {"type": "bar"},
              "encoding": {
                "x": {"field": "ms", "type": "quantitative", "scale": {"domain": [0, 50], "nice": false},
                  "axis": {"values": [0, 10, 20, 30, 40, 50], "format": "d", "grid": false, "tickSize": 4, "tickColor": "#aaaaaa", "domainColor": "#aaaaaa", "labelFont": "DejaVu Sans", "labelFontWeight": "bold", "labelFontSize": 13, "labelColor": "#555555", "labelPadding": 10,
                    "title": "Map presence in milliseconds", "titleFont": "DejaVu Sans", "titleFontWeight": "bold", "titleFontSize": 19, "titleColor": "#1a1a1a", "titlePadding": 13}},
                "color": {"field": "cond", "type": "nominal", "scale": {"domain": ["Cɪɴᴄᴏʀʀᴇᴄᴛ", "Lɪɴᴄᴏʀʀᴇᴄᴛ"], "range": ["#ff0000", "#000000"]},
                  "legend": {"orient": "none", "legendX": 383, "legendY": 92, "title": null, "symbolType": "M-1,-0.4H1V0.4H-1Z", "symbolSize": 150, "rowPadding": 18, "labelFont": "DejaVu Sans", "labelFontSize": 14, "labelColor": "#111111", "labelOffset": 5}}
              }
            },
            {
              "mark": {"type": "rule", "color": "#333333", "strokeWidth": 1.3},
              "encoding": {
                "x": {"field": "lo", "type": "quantitative"},
                "x2": {"field": "hi"}
              }
            },
            {
              "mark": {"type": "tick", "color": "#333333", "thickness": 1.3, "size": 7},
              "encoding": {"x": {"field": "lo", "type": "quantitative"}}
            },
            {
              "mark": {"type": "tick", "color": "#333333", "thickness": 1.3, "size": 7},
              "encoding": {"x": {"field": "hi", "type": "quantitative"}}
            }
          ]
        }
      ]
    }
  ]
}
